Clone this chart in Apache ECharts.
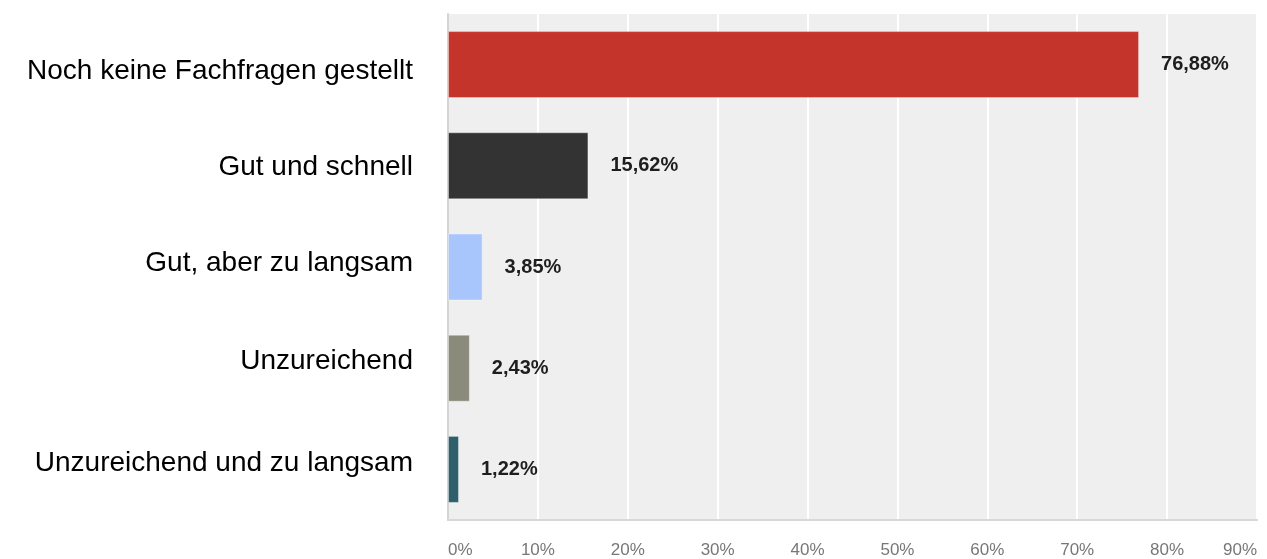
<!DOCTYPE html>
<html>
<head>
<meta charset="utf-8">
<script src="https://cdn.jsdelivr.net/npm/echarts@6/dist/echarts.min.js"></script>
<style>
  html, body { margin: 0; padding: 0; background: #ffffff; }
  #chart { width: 1267px; height: 559px; }
</style>
</head>
<body>
<div id="chart"></div>
<script>
// Survey answers and their share of responses (%)
const categories = [
  'Noch keine Fachfragen gestellt',
  'Gut und schnell',
  'Gut, aber zu langsam',
  'Unzureichend',
  'Unzureichend und zu langsam'
];
const shares = [76.88, 15.62, 3.85, 2.43, 1.22];
const barColors = ['#c5342b', '#333333', '#a9c6fc', '#8a8b7b', '#2e5f6b'];
const tickValues = [0, 10, 20, 30, 40, 50, 60, 70, 80, 90];

const chart = echarts.init(document.getElementById('chart'), null, { renderer: 'canvas' });

const fmtPct = v => v.toFixed(2).replace('.', ',') + '%';
const font = 'Arial, "Liberation Sans", sans-serif';

// Category captions sit a little off the band centres; nudge each one vertically
const captionShift = [7, 1, -4, -7, -6];
const captionRich = {};
captionShift.forEach((d, i) => {
  captionRich['c' + i] = {
    color: '#000000', fontFamily: font, fontSize: 28,
    padding: d >= 0 ? [2 * d, 0, 0, 0] : [0, 0, -2 * d, 0]
  };
});

chart.setOption({
  animation: false,
  backgroundColor: '#ffffff',
  grid: {
    left: 448, right: 10, top: 14, bottom: 39,
    show: true, backgroundColor: '#efefef', borderWidth: 0
  },
  xAxis: {
    type: 'value',
    min: tickValues[0],
    max: tickValues[tickValues.length - 1],
    interval: 10,
    axisLine: { show: true, lineStyle: { color: '#d8d8d8', width: 2 } },
    axisTick: { show: false },
    splitLine: { show: true, lineStyle: { color: '#ffffff', width: 2 } },
    axisLabel: {
      color: '#777777', fontFamily: font,
      fontSize: 17, margin: 22,
      alignMinLabel: 'left', alignMaxLabel: 'right',
      formatter: v => v + '%'
    }
  },
  yAxis: {
    type: 'category',
    inverse: true,
    data: categories,
    axisLine: { show: true, lineStyle: { color: '#d4d4d4', width: 2 } },
    axisTick: { show: false },
    splitLine: { show: false },
    axisLabel: {
      color: '#000000', fontFamily: font,
      fontSize: 28, margin: 35,
      formatter: (v, i) => '{c' + i + '|' + v + '}',
      rich: captionRich
    }
  },
  series: [{
    type: 'bar',
    data: shares.map((v, i) => ({
      value: v,
      itemStyle: { color: barColors[i], borderColor: 'rgba(255,255,255,0.35)', borderWidth: 1 }
    })),
    barWidth: 67,
    label: {
      show: true,
      position: 'right',
      distance: 22,
      color: '#1e1e1e',
      fontFamily: font,
      fontWeight: 'bold',
      fontSize: 20,
      formatter: p => fmtPct(p.value)
    }
  }]
});
</script>
</body>
</html>
